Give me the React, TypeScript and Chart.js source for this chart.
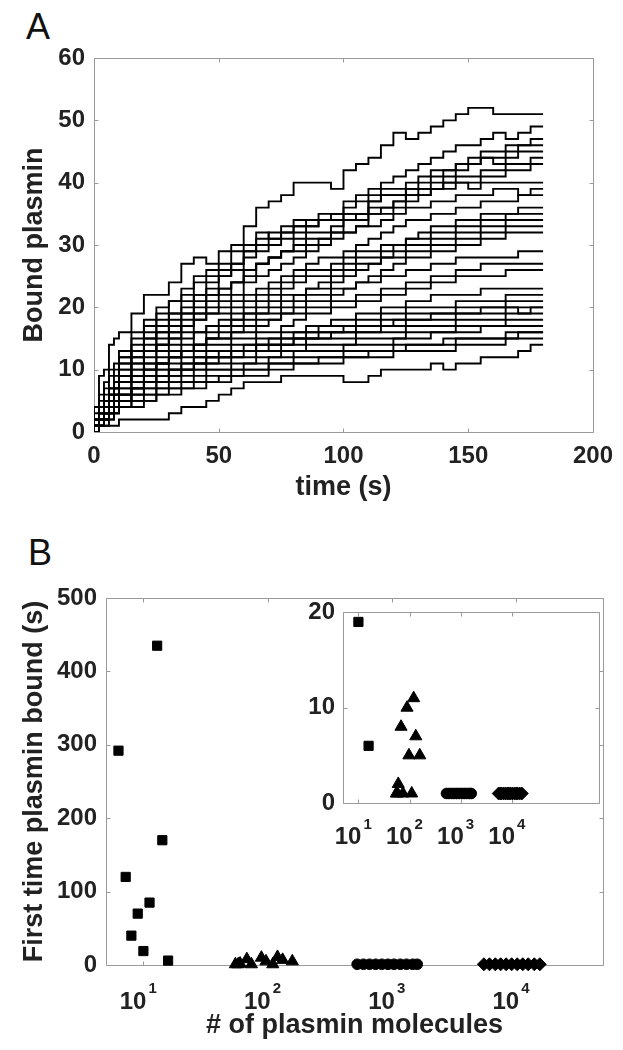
import React, { useEffect, useRef } from 'react';
import { Chart, registerables } from 'chart.js';

Chart.register(...registerables);

// ---------------- Panel A data ----------------
const TIME = [0, 2, 4, 6, 8, 10, 15, 20, 25, 30, 35, 40, 45, 50, 55, 60, 65, 70, 75, 80, 85, 90, 95, 100,
  105, 110, 115, 120, 125, 130, 135, 140, 145, 150, 155, 160, 165, 170, 175, 180];

const run01 = [0, 4, 9, 10, 14, 15, 16, 19, 22, 22, 24, 27, 28, 27, 29, 30, 33, 36, 37, 38, 40, 40, 40, 39, 42, 43, 44, 46, 48, 47, 48, 49, 50, 51, 52, 52, 51, 51, 51, 51];
const run02 = [0, 2, 5, 8, 10, 11, 13, 16, 18, 20, 21, 23, 25, 26, 27, 29, 30, 32, 31, 33, 34, 34, 35, 35, 37, 38, 39, 40, 41, 42, 43, 44, 45, 46, 46, 47, 48, 47, 48, 49];
const run03 = [0, 3, 6, 7, 9, 10, 12, 14, 17, 19, 21, 22, 24, 25, 26, 27, 29, 30, 31, 32, 33, 34, 34, 35, 36, 37, 38, 39, 39, 40, 41, 42, 42, 43, 44, 45, 45, 46, 46, 47];
const run04 = [0, 1, 3, 5, 7, 8, 11, 13, 15, 17, 19, 21, 22, 23, 25, 26, 28, 29, 30, 31, 32, 33, 34, 34, 35, 35, 37, 38, 38, 39, 40, 41, 42, 43, 43, 44, 44, 45, 46, 46];
const run05 = [0, 2, 4, 6, 7, 9, 12, 15, 16, 18, 19, 20, 22, 24, 25, 27, 29, 31, 32, 32, 33, 33, 34, 34, 35, 35, 36, 36, 37, 38, 39, 40, 41, 42, 43, 44, 43, 44, 45, 45];
const run06 = [0, 2, 3, 5, 6, 7, 10, 12, 14, 16, 17, 19, 21, 22, 23, 24, 26, 27, 28, 29, 31, 32, 32, 33, 34, 34, 35, 35, 36, 37, 38, 39, 40, 41, 41, 42, 42, 43, 43, 44];
const run07 = [0, 1, 3, 4, 6, 7, 9, 11, 13, 15, 16, 18, 19, 21, 22, 24, 25, 27, 28, 29, 29, 30, 31, 32, 32, 33, 35, 36, 37, 38, 38, 39, 39, 40, 40, 41, 41, 42, 42, 43];
const run08 = [0, 2, 4, 5, 7, 8, 11, 13, 15, 16, 18, 19, 20, 22, 23, 24, 26, 27, 28, 29, 30, 31, 31, 32, 34, 35, 37, 38, 38, 39, 39, 39, 40, 40, 39, 40, 40, 40, 40, 40];
const run09 = [0, 1, 2, 4, 5, 6, 9, 11, 13, 14, 16, 17, 19, 20, 21, 22, 24, 25, 26, 27, 28, 29, 30, 31, 32, 33, 33, 34, 35, 36, 36, 37, 37, 38, 38, 38, 39, 39, 38, 39];
const run10 = [0, 1, 3, 4, 6, 7, 9, 10, 12, 14, 15, 16, 18, 19, 20, 21, 22, 23, 24, 25, 26, 27, 28, 28, 29, 30, 31, 32, 33, 34, 34, 35, 35, 36, 36, 37, 37, 37, 38, 38];
const run11 = [0, 2, 3, 5, 6, 7, 10, 12, 13, 14, 15, 17, 18, 19, 19, 20, 21, 22, 23, 24, 25, 26, 26, 27, 28, 29, 29, 30, 30, 31, 32, 33, 33, 34, 34, 35, 35, 35, 36, 36];
const run12 = [0, 1, 2, 3, 5, 6, 8, 10, 11, 13, 14, 15, 16, 17, 18, 19, 20, 21, 22, 23, 24, 25, 25, 26, 27, 28, 28, 29, 30, 31, 31, 32, 32, 33, 33, 34, 34, 35, 35, 35];
const run13 = [0, 1, 2, 4, 5, 6, 8, 9, 11, 12, 13, 14, 16, 17, 17, 18, 19, 20, 21, 22, 22, 23, 23, 24, 25, 26, 27, 28, 29, 30, 30, 31, 31, 32, 32, 33, 33, 34, 34, 34];
const run14 = [0, 2, 3, 4, 5, 6, 8, 9, 10, 11, 12, 13, 14, 16, 17, 18, 19, 19, 20, 21, 22, 23, 24, 25, 26, 27, 27, 28, 28, 29, 29, 30, 30, 31, 31, 32, 32, 33, 33, 33];
const run15 = [0, 1, 2, 3, 4, 5, 7, 8, 10, 11, 12, 13, 14, 15, 16, 17, 18, 19, 19, 20, 21, 22, 22, 23, 23, 24, 25, 26, 27, 28, 28, 29, 29, 30, 30, 31, 31, 32, 32, 32];
const run16 = [0, 1, 3, 4, 5, 6, 8, 9, 10, 11, 12, 13, 14, 15, 15, 16, 17, 18, 18, 19, 20, 21, 21, 22, 23, 24, 24, 25, 25, 26, 26, 27, 27, 28, 28, 28, 28, 28, 29, 29];
const run17 = [0, 1, 2, 3, 4, 5, 7, 9, 10, 11, 12, 13, 14, 15, 15, 16, 16, 17, 18, 19, 19, 20, 20, 21, 21, 22, 22, 23, 23, 24, 24, 25, 25, 26, 26, 27, 27, 27, 27, 27];
const run18 = [0, 0, 1, 3, 4, 5, 6, 8, 9, 10, 11, 12, 13, 14, 14, 15, 15, 16, 16, 17, 18, 19, 19, 20, 20, 21, 21, 22, 22, 23, 23, 24, 24, 25, 25, 25, 25, 26, 26, 26];
const run19 = [0, 1, 2, 3, 4, 4, 6, 7, 9, 10, 10, 11, 12, 13, 13, 14, 14, 15, 15, 16, 16, 17, 17, 18, 18, 19, 19, 20, 20, 21, 21, 22, 22, 22, 22, 23, 23, 23, 23, 23];
const run20 = [0, 1, 2, 3, 4, 5, 6, 7, 8, 9, 10, 11, 12, 12, 13, 13, 14, 14, 15, 15, 16, 16, 17, 17, 17, 18, 18, 19, 19, 20, 20, 20, 20, 21, 21, 21, 21, 22, 22, 22];
const run21 = [0, 0, 1, 2, 3, 4, 5, 7, 8, 9, 10, 10, 11, 12, 12, 13, 13, 14, 14, 15, 15, 16, 16, 16, 17, 17, 17, 18, 18, 19, 19, 19, 19, 20, 20, 20, 20, 21, 21, 21];
const run22 = [0, 1, 2, 3, 3, 4, 5, 6, 7, 8, 9, 10, 11, 12, 12, 13, 13, 14, 14, 14, 15, 15, 16, 16, 16, 17, 17, 17, 18, 18, 18, 19, 19, 19, 19, 20, 20, 20, 20, 20];
const run23 = [0, 1, 1, 2, 3, 4, 6, 7, 8, 9, 10, 10, 11, 11, 12, 12, 13, 13, 14, 14, 15, 15, 15, 16, 16, 16, 16, 17, 17, 18, 18, 18, 18, 19, 19, 19, 19, 20, 19, 20];
const run24 = [0, 1, 2, 3, 4, 5, 6, 7, 8, 8, 9, 10, 10, 11, 11, 12, 12, 13, 13, 14, 14, 15, 15, 15, 15, 16, 16, 16, 16, 17, 17, 17, 17, 18, 18, 18, 18, 19, 19, 19];
const run25 = [0, 0, 1, 2, 3, 4, 5, 6, 7, 8, 8, 9, 10, 10, 10, 11, 11, 12, 12, 13, 13, 14, 14, 14, 14, 15, 15, 15, 15, 16, 16, 16, 16, 17, 17, 17, 17, 18, 18, 18];
const run26 = [0, 1, 2, 3, 3, 4, 5, 6, 6, 7, 8, 8, 9, 10, 10, 10, 11, 11, 12, 12, 13, 13, 13, 13, 14, 14, 14, 14, 15, 15, 15, 16, 16, 16, 16, 17, 17, 17, 17, 17];
const run27 = [0, 1, 1, 2, 3, 3, 4, 5, 6, 7, 7, 8, 8, 9, 9, 10, 10, 10, 11, 11, 12, 12, 12, 12, 13, 13, 13, 13, 14, 14, 14, 14, 15, 15, 15, 15, 15, 16, 16, 16];
const run28 = [0, 0, 1, 1, 2, 3, 4, 5, 5, 6, 7, 7, 8, 8, 9, 9, 10, 10, 11, 11, 11, 11, 12, 12, 12, 12, 13, 13, 13, 14, 14, 14, 14, 15, 15, 15, 15, 15, 16, 16];
const run29 = [0, 0, 1, 2, 2, 3, 4, 4, 5, 6, 6, 7, 7, 8, 8, 9, 9, 9, 10, 10, 11, 11, 11, 11, 12, 12, 12, 12, 13, 13, 13, 13, 13, 14, 14, 14, 14, 15, 15, 15];
const run30 = [0, 0, 1, 1, 1, 1, 2, 2, 2, 2, 3, 4, 4, 5, 6, 7, 8, 8, 8, 9, 9, 9, 9, 9, 8, 8, 9, 10, 10, 10, 10, 11, 10, 11, 11, 12, 12, 12, 13, 14];

const RUNS = [run01, run02, run03, run04, run05, run06, run07, run08, run09, run10,
  run11, run12, run13, run14, run15, run16, run17, run18, run19, run20,
  run21, run22, run23, run24, run25, run26, run27, run28, run29, run30];

const A_X_TICKS = [0, 50, 100, 150, 200];
const A_Y_TICKS = [0, 10, 20, 30, 40, 50, 60];

// ---------------- Panel B data ----------------
const SQUARE_N = [6.3, 7.2, 8.0, 9.0, 10, 11.2, 12.9, 14.2, 15.8];
const SQUARE_T = [292, 120, 40, 70, 19, 85, 435, 170, 6];
const TRI_N = [55, 58, 60, 68, 74, 89, 97, 110, 120, 132, 158];
const TRI_T = [1, 1, 2, 8, 1, 10, 5, 1, 11, 7, 5];
const CIRC_N = [525, 590, 660, 740, 830, 930, 1040, 1170, 1310, 1470, 1600];
const CIRC_T = [1, 1, 1, 1, 1, 1, 1, 1, 1, 1, 1];
const DIAM_N = [5500, 6100, 6800, 7500, 8300, 9200, 10200, 11300, 12500, 14000, 15500];
const DIAM_T = [1, 1, 1, 1, 1, 1, 1, 1, 1, 1, 1];

const B_X_TICKS = [10, 100, 1000, 10000];
const B_Y_TICKS = [0, 100, 200, 300, 400, 500];
const INSET_Y_TICKS = [0, 10, 20];

// ---------------- styling ----------------
const FONT = "'Liberation Sans', Arial, Helvetica, sans-serif";
const TICK_SIZE = 24;
const EXP_SIZE = 15;
const TITLE_SIZE = 27;
const AXIS_COLOR = '#9a9a9a';
const TEXT_COLOR = '#222222';

type LogLabelOpts = { digitsDy: number; expDy: number };

function framePlugin(tickLen: number, logX?: LogLabelOpts) {
  return {
    id: 'matlabFrame',
    beforeDatasetsDraw(chart: any) {
      const { ctx, chartArea: a, scales } = chart;
      const xs = scales.x;
      const ys = scales.y;
      ctx.save();
      ctx.strokeStyle = AXIS_COLOR;
      ctx.lineWidth = 1;
      ctx.beginPath();
      const L = Math.round(a.left) + 0.5;
      const R = Math.round(a.right) + 0.5;
      const T = Math.round(a.top) + 0.5;
      const B = Math.round(a.bottom) + 0.5;
      ctx.rect(L, T, R - L, B - T);
      xs.ticks.forEach((t: any) => {
        const px = Math.round(xs.getPixelForValue(t.value)) + 0.5;
        ctx.moveTo(px, B);
        ctx.lineTo(px, B - tickLen);
        ctx.moveTo(px, T);
        ctx.lineTo(px, T + tickLen);
      });
      ys.ticks.forEach((t: any) => {
        const py = Math.round(ys.getPixelForValue(t.value)) + 0.5;
        ctx.moveTo(L, py);
        ctx.lineTo(L + tickLen, py);
        ctx.moveTo(R, py);
        ctx.lineTo(R - tickLen, py);
      });
      ctx.stroke();
      ctx.restore();
    },
    afterDraw(chart: any) {
      if (!logX) return;
      const { ctx, chartArea: a, scales } = chart;
      const xs = scales.x;
      ctx.save();
      ctx.fillStyle = TEXT_COLOR;
      ctx.textBaseline = 'middle';
      xs.ticks.forEach((t: any) => {
        const px = xs.getPixelForValue(t.value);
        const exp = String(Math.round(Math.log10(t.value)));
        ctx.font = `bold ${TICK_SIZE}px ${FONT}`;
        ctx.textAlign = 'right';
        ctx.fillText('10', px + 3, a.bottom + logX.digitsDy);
        ctx.font = `bold ${EXP_SIZE}px ${FONT}`;
        ctx.textAlign = 'left';
        ctx.fillText(exp, px + 5, a.bottom + logX.expDy);
      });
      ctx.restore();
    },
  };
}

function fixedTicks(values: number[]) {
  return (s: any) => {
    s.ticks = values.map((v) => ({ value: v }));
  };
}

const tickFont = { family: FONT, size: TICK_SIZE, weight: 'bold' as const };
const titleFont = { family: FONT, size: TITLE_SIZE, weight: 'bold' as const };

function makeScatter(xs: number[], ys: number[], style: string, radius: number) {
  return {
    type: 'scatter' as const,
    data: xs.map((x, i) => ({ x, y: ys[i] })),
    pointStyle: style,
    pointRadius: radius,
    pointBackgroundColor: '#000',
    pointBorderColor: '#000',
    pointBorderWidth: 1,
    showLine: false,
    clip: false as const,
  };
}

function scatterDatasets() {
  return [
    makeScatter(SQUARE_N, SQUARE_T, 'rect', 6.5),
    makeScatter(TRI_N, TRI_T, 'triangle', 7),
    makeScatter(CIRC_N, CIRC_T, 'circle', 5.3),
    makeScatter(DIAM_N, DIAM_T, 'rectRot', 6.5),
  ];
}

export default function App() {
  const refA = useRef<HTMLCanvasElement>(null);
  const refB = useRef<HTMLCanvasElement>(null);
  const refI = useRef<HTMLCanvasElement>(null);

  useEffect(() => {
    const charts: Chart[] = [];

    // ---------- Panel A ----------
    charts.push(
      new Chart(refA.current as HTMLCanvasElement, {
        type: 'line',
        data: {
          datasets: RUNS.map((run) => ({
            data: TIME.map((t, i) => ({ x: t, y: run[i] })),
            borderColor: '#000',
            borderWidth: 1.9,
            pointRadius: 0,
            stepped: 'after' as const,
            fill: false,
            tension: 0,
          })),
        },
        options: {
          responsive: false,
          animation: false,
          events: [],
          layout: { padding: { left: 0, top: 58, right: 30, bottom: 0 } },
          plugins: { legend: { display: false }, tooltip: { enabled: false } },
          scales: {
            x: {
              type: 'linear',
              min: 0,
              max: 200,
              afterBuildTicks: fixedTicks(A_X_TICKS),
              afterFit: (s: any) => { s.height = 88; },
              grid: { display: false, drawTicks: false },
              border: { display: false },
              ticks: { font: tickFont, color: TEXT_COLOR, padding: 10, maxRotation: 0 },
              title: { display: true, text: 'time (s)', font: titleFont, color: TEXT_COLOR, padding: { top: 0, bottom: 16 } },
            },
            y: {
              type: 'linear',
              min: 0,
              max: 60,
              afterBuildTicks: fixedTicks(A_Y_TICKS),
              afterFit: (s: any) => { s.width = 94; },
              grid: { display: false, drawTicks: false },
              border: { display: false },
              ticks: { font: tickFont, color: TEXT_COLOR, padding: 9 },
              title: { display: true, text: 'Bound plasmin', font: titleFont, color: TEXT_COLOR, padding: { top: 18, bottom: 0 } },
            },
          },
        },
        plugins: [framePlugin(4)],
      } as any)
    );

    // ---------- Panel B main ----------
    charts.push(
      new Chart(refB.current as HTMLCanvasElement, {
        type: 'scatter',
        data: { datasets: scatterDatasets() },
        options: {
          responsive: false,
          animation: false,
          events: [],
          layout: { padding: { left: 0, top: 68, right: 20, bottom: 0 } },
          plugins: { legend: { display: false }, tooltip: { enabled: false } },
          scales: {
            x: {
              type: 'logarithmic',
              min: 5,
              max: 50000,
              afterBuildTicks: fixedTicks(B_X_TICKS),
              afterFit: (s: any) => { s.height = 85; },
              grid: { display: false, drawTicks: false },
              border: { display: false },
              ticks: { display: false },
              title: { display: true, text: '# of plasmin molecules', font: titleFont, color: TEXT_COLOR, padding: { top: 0, bottom: 8 } },
            },
            y: {
              type: 'linear',
              min: 0,
              max: 500,
              afterBuildTicks: fixedTicks(B_Y_TICKS),
              afterFit: (s: any) => { s.width = 106; },
              grid: { display: false, drawTicks: false },
              border: { display: false },
              ticks: { font: tickFont, color: TEXT_COLOR, padding: 9 },
              title: { display: true, text: 'First time plasmin bound (s)', font: titleFont, color: TEXT_COLOR, padding: { top: 18, bottom: 0 } },
            },
          },
        },
        plugins: [framePlugin(4, { digitsDy: 37, expDy: 24 })],
      } as any)
    );

    // ---------- Panel B inset ----------
    charts.push(
      new Chart(refI.current as HTMLCanvasElement, {
        type: 'scatter',
        data: { datasets: scatterDatasets() },
        options: {
          responsive: false,
          animation: false,
          events: [],
          layout: { padding: { left: 0, top: 20, right: 11, bottom: 0 } },
          plugins: { legend: { display: false }, tooltip: { enabled: false } },
          scales: {
            x: {
              type: 'logarithmic',
              min: 5,
              max: 500000,
              afterBuildTicks: fixedTicks(B_X_TICKS),
              afterFit: (s: any) => { s.height = 67; },
              grid: { display: false, drawTicks: false },
              border: { display: false },
              ticks: { display: false },
            },
            y: {
              type: 'linear',
              min: 0,
              max: 20,
              afterBuildTicks: fixedTicks(INSET_Y_TICKS),
              afterFit: (s: any) => { s.width = 63; },
              grid: { display: false, drawTicks: false },
              border: { display: false },
              ticks: { font: tickFont, color: TEXT_COLOR, padding: 8 },
            },
          },
        },
        plugins: [framePlugin(4, { digitsDy: 34, expDy: 22 })],
      } as any)
    );

    return () => charts.forEach((c) => c.destroy());
  }, []);

  const panelLabel: React.CSSProperties = {
    position: 'absolute',
    fontFamily: FONT,
    fontSize: 36,
    lineHeight: '36px',
    fontWeight: 'normal',
    color: '#111',
    margin: 0,
  };

  return (
    <div style={{ position: 'absolute', left: 0, top: 0, width: 623, height: 1050, background: '#fff', overflow: 'hidden' }}>
      <div style={{ ...panelLabel, left: 26, top: 9 }}>A</div>
      <div style={{ ...panelLabel, left: 28, top: 535 }}>B</div>
      <canvas ref={refA} width={623} height={520} style={{ position: 'absolute', left: 0, top: 0, width: 623, height: 520 }} />
      <canvas ref={refB} width={623} height={520} style={{ position: 'absolute', left: 0, top: 530, width: 623, height: 520 }} />
      <canvas ref={refI} width={330} height={280} style={{ position: 'absolute', left: 280, top: 590, width: 330, height: 280 }} />
    </div>
  );
}
